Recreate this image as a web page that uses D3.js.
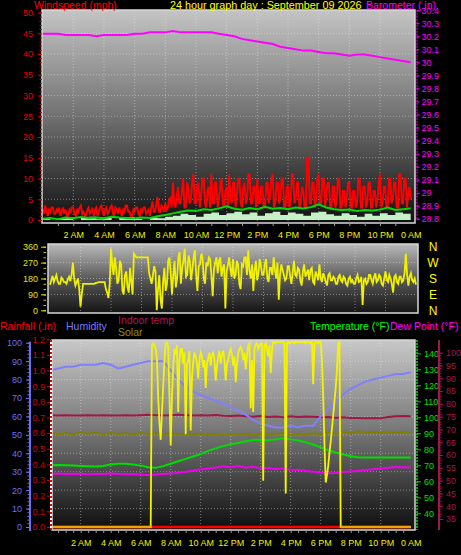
<!DOCTYPE html>
<html><head><meta charset="utf-8">
<script src="https://cdn.jsdelivr.net/npm/d3@7/dist/d3.min.js"></script>
<style>
html,body{margin:0;padding:0;background:#000;}
svg{display:block;font-family:"Liberation Sans",Arial,sans-serif;}
.tk text{font-family:"Liberation Sans Narrow","Arial Narrow","Liberation Sans",sans-serif;font-size:9px;}
</style>
</head><body>
<svg id="c" width="461" height="555"></svg>
<script>
// ---------- DATA ----------
const hourTicks = [2,4,6,8,10,12,14,16,18,20,22,24];
const hourLabels = ["2 AM","4 AM","6 AM","8 AM","10 AM","12 PM","2 PM","4 PM","6 PM","8 PM","10 PM","0 AM"];
const windTicks = [0,5,10,15,20,25,30,35,40,45,50];
const baroTicks = [28.8,28.9,29,29.1,29.2,29.3,29.4,29.5,29.6,29.7,29.8,29.9,30,30.1,30.2,30.3,30.4];
const dirTicks = [0,90,180,270,360];
const compassDirs = [360,270,180,90,0];
const compassLabels = ["N","W","S","E","N"];
const humTicks = [0,10,20,30,40,50,60,70,80,90,100];
const rainTicks = [0,0.1,0.2,0.3,0.4,0.5,0.6,0.7,0.8,0.9,1,1.1,1.2];
const tempTicks = [40,50,60,70,80,90,100,110,120,130,140];
const indoorTicks = [35,40,45,50,55,60,65,70,75,80,85,90,95,100];

// 5-minute samples (289)
const windGust = [
2.5,1.5,3.5,2,1,2.5,2,3,3,1.5,1.5,2.5,
2,3,1,2,3,1.5,2.5,1,1,2.5,2,3,
3,1.5,1,2.5,2,3,3.5,1.5,2,1,1,2.5,
3,1.5,2,3,1,2.5,3,1,2,3,3.5,2,
1,2.5,3,1.5,2,3,3.5,1.5,1,3,2.5,1.5,
3,2,1,2.5,2,3.5,3.5,2,2,1,1,2.5,
2,3,3,1.5,1,2.5,2,3,3,1.5,2,2.5,
1,3,4.5,2,2,4,5.5,2,2,3.5,3,2,
4,2.5,3,5,5.3,3,9,4,3,6,8,4,
4,7,10,3,3,9,8,4,5,9,11,4,
4,8,9,3,6,10,10,4,3,7,8,3,
11,4,4,9,9,3,5,8,10,4,3,7,
8,3,11,5,4,9,9,3,6,10,10,4,
3,8,9,4,5,11,11,4,4,8,8,3,
10,4,4,8,8,3,3,9,9,4,6,10,
11,3,4,9,9,4,5,10,10,3,3,8,
8,3,4,11,11,4,5,9,9,3,4,8,
7,3,3,15,15,4,4,9,9,3,5,10,
11,4,4,10,10,3,6,9,9,3,3,8,
8,3,4,10,10,3,3,7,7,3,5,9,
9,3,3,7,7,3,4,10,10,3,3,8,
8,3,4,9,9,3,3,7,7,3,5,9,
11,3,4,8,8,3,3,10,10,4,5,9,
9,3,3,11,11,4,4,10,10,3,6,8,
5];
const windDir = [
145,170,195,160,180,200,165,150,150,185,175,160,
160,150,175,190,165,200,270,180,140,160,180,120,
20,90,150,150,150,150,150,150,150,150,150,150,
155,155,160,160,160,160,160,160,120,100,70,150,
350,260,200,300,240,150,170,280,260,110,90,200,
220,130,100,240,160,90,320,310,300,300,300,300,
300,300,300,300,300,300,210,180,150,200,250,220,
0,120,200,60,10,160,240,110,150,280,300,210,
90,200,280,130,180,300,330,150,240,280,350,190,
200,310,280,170,230,300,340,200,110,250,260,320,
300,180,150,270,250,300,290,200,80,230,270,300,
210,280,300,190,240,260,10,220,260,300,230,190,
290,180,200,280,260,150,120,260,250,300,300,200,
340,220,180,260,110,230,280,170,210,290,250,200,
200,260,290,180,160,240,240,200,300,230,180,270,
60,200,260,230,200,170,180,250,250,190,150,220,
280,200,190,240,230,170,140,220,260,190,210,230,
170,230,240,160,150,220,200,170,260,180,160,210,
190,160,140,200,210,170,170,190,180,150,150,190,
200,170,160,190,180,150,140,180,190,160,170,150,
150,180,200,160,165,190,30,170,180,150,160,200,
200,170,150,190,210,160,170,200,190,150,140,180,
220,170,160,200,180,150,100,190,200,160,150,190,
190,160,170,210,320,200,140,190,210,170,160,180,
145];
const solarRad = [
0,0,0,0,0,0,0,0,0,0, 0,0,0,0,0,0,0,0,0,0, 0,0,0,0,0,0,0,0,0,0, 0,0,0,0,0,0,0,0,0,0,
0,0,0,0,0,0,0,0,0,0, 0,0,0,0,0,0,0,0,0,0, 0,0,0,0,0,0,0,0,0,0, 0,0,0,0,0,0,0,0,0,0,
0,980,990,975,960,900,700,560,470,620,
760,900,990,995,970,700,440,700,860,960,
930,980,620,900,960,960,880,940,500,880,
900,950,520,800,890,940,920,880,800,910,
940,920,860,900,750,880,910,940,870,930,
940,900,790,870,920,950,880,930,950,900,
790,880,900,940,960,930,870,920,780,880,
940,960,970,950,900,940,850,920,980,990,
640,900,620,960,985,990,960,980,990,990,
250,980,990,960,920,980,830,950,1000,995,
990,1000,1000,995,995,1000,1000,990,180,995,
1000,990,995,1000,1000,990,1000,995,995,1000,
1000,995,1000,1000,990,1000,1000,990,995,1000,
770,990,1000,995,990,1000,1000,900,700,450,
240,280,330,400,460,530,600,680,750,850,
990,1000,0,
0,0,0,0,0,0,0,0,0,0, 0,0,0,0,0,0,0,0,0,0, 0,0,0,0,0,0,0,0,0,0,
0,0,0,0,0,0,0,0,0,0, 0,0,0,0,0,0,0,0,0,0, 0,0,0,0,0,0];

// 30-minute samples (49)
const windAvg = [0.3,0.5,0.2,0.6,0.4,0.7,0.5,0.6,0.4,0.8, 0.6,0.5,0.4,0.6,0.5,0.9,1.2,1.6,2.0,2.3,
2.2,2.6,2.4,2.8,3.3,2.7,2.5,2.9,2.6,3.2, 2.7,2.9,2.6,3.0,2.8,3.1,3.8,3.0,2.6,2.4,
2.5,2.2,2.4,2.3,2.5,3.0,2.4,2.6,2.8];
const windSpeed = [0.5,0,0.3,0.6,0,0.5,0.8,0.2,0.6,0, 0.5,0.7,0.3,0,0.6,0.4,0.8,1.0,1.5,1.2,
0.8,1.5,1.8,1.2,1.6,2.0,1.4,1.8,1.0,1.6, 2.0,1.2,1.8,1.5,1.0,1.8,2.0,1.4,1.0,1.6,
1.2,0.8,1.5,1.0,1.6,1.2,1.8,1.5,1.6];
const barometer = [30.22,30.22,30.22,30.21,30.21,30.21,30.21,30.20,30.21,30.21,
30.21,30.21,30.22,30.22,30.23,30.23,30.23,30.24,30.23,30.23,
30.23,30.23,30.23,30.22,30.21,30.20,30.18,30.17,30.16,30.15,
30.14,30.12,30.11,30.10,30.09,30.09,30.08,30.07,30.07,30.06,
30.05,30.06,30.06,30.05,30.04,30.03,30.02,30.01,30.00];
const humidity = [85,86,87,87,88,88,88,89,88,86, 87,88,89,90,90,90,85,80,76,73.5,
71.5,70,68.5,67,65,63,61,58,56,55, 54,54,55,54,55,55,60,64,67,72,
75,77,79,80,81,82,83,83,84];
const indoorTemp = [75.6,75.5,75.6,75.5,75.5,75.6,75.5,75.6,75.5,75.5,
75.6,75.5,75.6,75.7,75.6,75.5,75.6,75.7,75.6,75.5,
75.6,75.5,75.6,75.4,75.3,75.5,75.2,75.0,75.3,74.9,
75.1,74.8,75.2,74.9,75.1,75.0,74.8,74.9,74.6,74.8,
74.5,74.5,74.4,74.5,74.4,74.9,75.2,75.3,75.2];
const solarIdx = [51.2,50.4,51.0,50.2,51.4,50.6,51.1,50.3,51.0,50.5,
50.9,50.2,51.1,50.4,50.8,50.0,50.9,50.3,50.6,49.9,
50.7,50.1,50.5,49.8,50.6,50.0,50.4,49.7,50.5,49.9,
50.3,50.8,49.9,50.6,50.1,50.9,50.3,51.2,50.5,51.6,
50.8,51.9,51.0,51.7,50.9,51.8,51.2,51.6,51.3];
const temperature = [70.0,70.2,70.0,69.8,69.6,69.4,69.2,69.5,70.5,71.0,
71.0,70.5,69.8,68.8,68.4,69.5,71.0,72.5,74.0,75.5,
77.0,79.0,80.6,82.0,83.2,84.0,85.0,85.8,86.0,85.6,
86.2,86.9,86.2,85.5,84.4,83.0,81.2,79.5,78.0,76.8,
75.6,75.0,74.8,74.8,74.8,74.8,74.8,74.8,74.8];
const dewPoint = [64.6,64.8,64.5,64.7,64.6,64.4,64.6,64.5,64.8,64.6,
64.4,64.5,64.3,64.0,64.2,64.5,64.8,65.4,66.0,66.8,
67.4,68.0,68.6,69.4,68.8,69.6,68.5,69.2,68.0,68.4,
67.5,68.0,67.2,67.0,66.6,66.0,65.4,65.0,65.2,65.8,
66.2,66.6,67.0,67.6,68.0,68.4,69.0,68.8,68.6];
const rainfall = [0,0,0,0,0,0,0,0,0,0,0,0,0,0,0,0,0,0,0,0,0,0,0,0,0];

// ---------- HELPERS ----------
const t5 = i => i * 5 / 60;
const t30 = i => i * 30 / 60;
const t60 = i => i;
const svg = d3.select("#c");
const defs = svg.append("defs");
function grad(id, stops){
  const g = defs.append("linearGradient").attr("id", id).attr("x1",0).attr("y1",0).attr("x2",0).attr("y2",1);
  stops.forEach(s => g.append("stop").attr("offset", s[0]).attr("stop-color", s[1]));
}
grad("g1", [[0,"#c4c4c4"],[0.45,"#7a7a7a"],[1,"#101010"]]);
grad("g2", [[0,"#bababa"],[0.5,"#5a5a5a"],[1,"#141414"]]);
grad("g3", [[0,"#c8c8c8"],[0.45,"#7c7c7c"],[1,"#0e0e0e"]]);
function clip(id, p){
  defs.append("clipPath").attr("id", id).append("rect")
    .attr("x", p.x0).attr("y", p.y0).attr("width", p.x1 - p.x0).attr("height", p.y1 - p.y0);
}
function panel(p, gid){
  svg.append("rect").attr("x", p.x0).attr("y", p.y0).attr("width", p.x1 - p.x0).attr("height", p.y1 - p.y0)
    .attr("fill", `url(#${gid})`);
}
function frame(p){
  svg.append("rect").attr("x", p.x0).attr("y", p.y0).attr("width", p.x1 - p.x0).attr("height", p.y1 - p.y0)
    .attr("fill", "none").attr("stroke", "#d8d8d8").attr("stroke-width", 1.5);
}
function styleAxis(g, color, noDomain){
  g.attr("class", "tk");
  g.selectAll("line").attr("stroke", color);
  g.selectAll("text").attr("fill", color);
  if (noDomain) g.select(".domain").remove(); else g.select(".domain").attr("stroke", color);
  return g;
}
function gridLines(p, xs, xTicks, ys, yTicks){
  const g = svg.append("g").attr("stroke", "#e8e8e8").attr("stroke-opacity", 0.45)
    .attr("stroke-dasharray", "1,2").attr("stroke-width", 1);
  xTicks.forEach(v => g.append("line").attr("x1", xs(v)).attr("x2", xs(v)).attr("y1", p.y0).attr("y2", p.y1));
  yTicks.forEach(v => g.append("line").attr("x1", p.x0).attr("x2", p.x1).attr("y1", ys(v)).attr("y2", ys(v)));
}

// ---------- TOP PANEL ----------
const P1 = {x0:42, x1:415, y0:10, y1:223};
const x1 = d3.scaleLinear([0,24],[42.6,410.7]);
const windY = d3.scaleLinear([0,50],[220,12.5]);
const baroY = d3.scaleLinear([28.8,30.4],[218.8,10.2]);
panel(P1, "g1"); clip("c1", P1);
gridLines(P1, x1, hourTicks.slice(0,11), windY, windTicks.slice(1,10));
const topG = svg.append("g").attr("clip-path", "url(#c1)");
topG.append("path").datum(windGust)
  .attr("d", d3.line().x((d,i)=>x1(t5(i))).y(d=>windY(d)))
  .attr("fill","none").attr("stroke","#ff0000").attr("stroke-width",1.9);
topG.append("path").datum(windSpeed)
  .attr("d", d3.area().curve(d3.curveStepAfter).x((d,i)=>x1(t30(i))).y0(windY(0)).y1(d=>windY(d)))
  .attr("fill","#c6f0c6");
topG.append("path").datum(windAvg)
  .attr("d", d3.line().x((d,i)=>x1(t30(i))).y(d=>windY(d)))
  .attr("fill","none").attr("stroke","#00d800").attr("stroke-width",2);
topG.append("path").datum(barometer)
  .attr("d", d3.line().x((d,i)=>x1(t30(i))).y(d=>baroY(d)))
  .attr("fill","none").attr("stroke","#ff00ff").attr("stroke-width",2);
frame(P1);

styleAxis(svg.append("g").attr("transform","translate(42,0)")
  .call(d3.axisLeft(windY).tickValues(d3.range(0,51,1)).tickSize(2.5).tickFormat("")), "#d00000", true);
styleAxis(svg.append("g").attr("transform","translate(42,0)")
  .call(d3.axisLeft(windY).tickValues(windTicks).tickSize(4).tickPadding(5)), "#e00000", true);
styleAxis(svg.append("g").attr("transform","translate(416.5,0)")
  .call(d3.axisRight(baroY).tickValues(baroTicks).tickSize(3).tickPadding(2).tickFormat(d=>String(+d.toFixed(1)))), "#ff00ff", false)
  .select(".domain").attr("stroke-dasharray","2,1");
styleAxis(svg.append("g").attr("transform",`translate(0,${P1.y1})`)
  .call(d3.axisBottom(x1).tickValues(d3.range(1,24,1)).tickSize(3).tickFormat("")), "#9a9a9a", true);
styleAxis(svg.append("g").attr("transform",`translate(0,${P1.y1})`)
  .call(d3.axisBottom(x1).tickValues(hourTicks).tickSize(0).tickPadding(8.5).tickFormat((d,i)=>hourLabels[i])), "#f0f000", true);

// titles
svg.append("text").attr("x",34).attr("y",8.5).attr("fill","#ff0000").attr("font-size",10.5).text("Windspeed (mph)");
svg.append("text").attr("x",170).attr("y",8.5).attr("fill","#ffff00").attr("font-size",10.8).text("24 hour graph day : September 09 2026");
svg.append("text").attr("x",366).attr("y",8.5).attr("fill","#ff00ff").attr("font-size",10.5).text("Barometer (.in)");

// ---------- WIND DIRECTION PANEL ----------
const P2 = {x0:48, x1:418, y0:244, y1:313};
const x2 = d3.scaleLinear([0,24],[50,416]);
const dirY = d3.scaleLinear([0,360],[310.3,246.7]);
panel(P2, "g2"); clip("c2", P2);
gridLines(P2, x2, hourTicks.slice(0,11), dirY, [90,180,270]);
svg.append("g").attr("clip-path","url(#c2)").append("path").datum(windDir)
  .attr("d", d3.line().x((d,i)=>x2(t5(i))).y(d=>dirY(d)))
  .attr("fill","none").attr("stroke","#f0f000").attr("stroke-width",1.8);
frame(P2);
styleAxis(svg.append("g").attr("transform","translate(46,0)")
  .call(d3.axisLeft(dirY).tickValues(d3.range(0,361,30)).tickSize(2.5).tickFormat("")), "#d0d000", true);
styleAxis(svg.append("g").attr("transform","translate(46,0)")
  .call(d3.axisLeft(dirY).tickValues(dirTicks).tickSize(5).tickPadding(3)), "#e0e000", true);
svg.append("g").selectAll("text").data(compassLabels).join("text")
  .attr("x",433).attr("y",(d,i)=>dirY(compassDirs[i])).attr("dy","0.36em")
  .attr("text-anchor","middle").attr("fill","#ffff00").attr("font-size",12).text(d=>d);

// ---------- LEGENDS (bottom) ----------
svg.append("text").attr("x",0).attr("y",330).attr("fill","#ff0000").attr("font-size",10.5).text("Rainfall (.in)");
svg.append("text").attr("x",66).attr("y",330).attr("fill","#7878ff").attr("font-size",10.5).text("Humidity");
svg.append("text").attr("x",118).attr("y",323.5).attr("fill","#b0184a").attr("font-size",10.5).text("Indoor temp");
svg.append("text").attr("x",118).attr("y",335.5).attr("fill","#909000").attr("font-size",10.5).text("Solar");
svg.append("text").attr("x",310).attr("y",330).attr("fill","#00ff00").attr("font-size",10.5).text("Temperature (°F)");
svg.append("text").attr("x",390).attr("y",330).attr("fill","#ff00ff").attr("font-size",10.5).text("Dew Point (°F)");

// ---------- BOTTOM PANEL ----------
const P3 = {x0:52, x1:415, y0:340, y1:530};
const x3 = d3.scaleLinear([0,24],[50.7,410.7]);
const humY = d3.scaleLinear([0,100],[527,342.7]);
const rainY = d3.scaleLinear([0,1.2],[527,339.2]);
const tempY = d3.scaleLinear([40,140],[513.3,353.3]);
const indoorY = d3.scaleLinear([35,100],[519,352.7]);
const solarY = d3.scaleLinear([0,1000],[527,341.5]);
panel(P3, "g3"); clip("c3", P3);
gridLines(P3, x3, hourTicks.slice(0,11), humY, humTicks.slice(1,10));
const bot = svg.append("g").attr("clip-path","url(#c3)");
function ln(data, tf, ys, color, w){
  bot.append("path").datum(data)
    .attr("d", d3.line().x((d,i)=>x3(tf(i))).y(d=>ys(d)))
    .attr("fill","none").attr("stroke",color).attr("stroke-width",w);
}
ln(indoorTemp, t30, indoorY, "#a01848", 2);
ln(solarIdx, t30, humY, "#808000", 2);
ln(humidity, t30, humY, "#8080ff", 2);
ln(temperature, t30, tempY, "#00dd00", 2);
ln(dewPoint, t30, tempY, "#ee00ee", 2);
ln(rainfall, t60, rainY, "#ff0000", 2.5);
ln(solarRad, t5, solarY, "#f4f400", 1.8);
bot.append("path").datum(solarRad)
  .attr("d", d3.line().defined(d=>d===0).x((d,i)=>x3(t5(i))).y(d=>solarY(d)))
  .attr("fill","none").attr("stroke","#f0a000").attr("stroke-width",2.5);
frame(P3);

// left axes
styleAxis(svg.append("g").attr("transform","translate(30,0)")
  .call(d3.axisLeft(humY).tickValues(d3.range(0,101,2)).tickSize(2.5).tickFormat("")), "#6f6fef", true);
styleAxis(svg.append("g").attr("transform","translate(30,0)")
  .call(d3.axisLeft(humY).tickValues(humTicks).tickSize(4).tickPadding(4)), "#6f6fef", true);
svg.append("line").attr("x1",30).attr("x2",30).attr("y1",humY(0)+4).attr("y2",humY(100)-1)
  .attr("stroke","#6f6fef").attr("stroke-width",2);
styleAxis(svg.append("g").attr("transform","translate(50,0)")
  .call(d3.axisLeft(rainY).tickValues(rainTicks).tickSize(3).tickPadding(2)), "#d00000", true);
svg.append("line").attr("x1",51).attr("x2",51).attr("y1",P3.y0).attr("y2",P3.y1)
  .attr("stroke","#ffffff").attr("stroke-width",2);
svg.append("line").attr("x1",51).attr("x2",51).attr("y1",P3.y0).attr("y2",P3.y1)
  .attr("stroke","#e00000").attr("stroke-width",2).attr("stroke-dasharray","2,2");
// right axes
styleAxis(svg.append("g").attr("transform","translate(417,0)")
  .call(d3.axisRight(tempY).tickValues(tempTicks).tickSize(4).tickPadding(3)), "#00e000", true);
svg.append("line").attr("x1",417).attr("x2",417).attr("y1",P3.y0).attr("y2",P3.y1)
  .attr("stroke","#00e000").attr("stroke-width",1.5).attr("stroke-dasharray","2,1");
styleAxis(svg.append("g").attr("transform","translate(439,0)")
  .call(d3.axisRight(indoorY).tickValues(d3.range(35,101,1)).tickSize(2.5).tickFormat("")), "#a01848", true);
styleAxis(svg.append("g").attr("transform","translate(439,0)")
  .call(d3.axisRight(indoorY).tickValues(indoorTicks).tickSize(4).tickPadding(3)), "#a01848", true);
svg.append("line").attr("x1",439).attr("x2",439).attr("y1",P3.y0).attr("y2",P3.y1)
  .attr("stroke","#a01848").attr("stroke-width",2);
// bottom time axis
styleAxis(svg.append("g").attr("transform",`translate(0,${P3.y1})`)
  .call(d3.axisBottom(x3).tickValues(d3.range(0.5,24,0.5)).tickSize(3).tickFormat("")), "#9a9a9a", true);
styleAxis(svg.append("g").attr("transform",`translate(0,${P3.y1})`)
  .call(d3.axisBottom(x3).tickValues(hourTicks).tickSize(0).tickPadding(10).tickFormat((d,i)=>hourLabels[i])), "#f0f000", true);
</script>
</body></html>
